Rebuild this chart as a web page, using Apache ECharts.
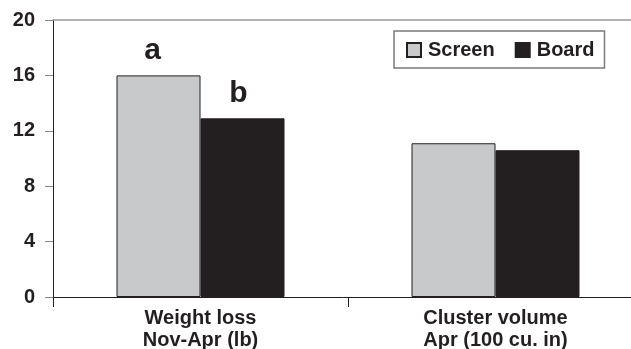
<!DOCTYPE html>
<html>
<head>
<meta charset="utf-8">
<script src="https://cdn.jsdelivr.net/npm/echarts@6/dist/echarts.min.js"></script>
<style>html,body{margin:0;padding:0;background:#fff}#c{width:631px;height:349px}</style>
</head>
<body>
<div id="c"></div>
<script>
var categories = ['Weight loss\nNov-Apr (lb)', 'Cluster volume\nApr (100 cu. in)'];
var screenValues = [16, 11.1];
var boardValues = [12.9, 10.6];
var screenLetters = ['a', ''];
var boardLetters = ['b', ''];
var yTicks = [0, 4, 8, 12, 16, 20];

var FONT = '"Liberation Sans", Arial, sans-serif';
var INK = '#231f20';

function withLetters(values, letters, offset) {
  return values.map(function (v, i) {
    var item = { value: v };
    if (letters[i]) {
      item.label = {
        show: true, position: 'top', distance: 10, offset: offset,
        formatter: letters[i], fontFamily: FONT, fontWeight: 'bold',
        fontSize: 30, color: INK
      };
    }
    return item;
  });
}

var chart = echarts.init(document.getElementById('c'), null, { renderer: 'canvas' });
chart.setOption({
  animation: false,
  backgroundColor: '#fff',
  grid: { left: 53, top: 20, width: 590, height: 277, containLabel: false, outerBoundsMode: 'none' },
  legend: {
    left: 394, top: 31,
    padding: [9, 10, 8, 12],
    borderColor: '#7a7a7a', borderWidth: 1.5,
    itemWidth: 14, itemHeight: 14, itemGap: 20,
    icon: 'rect',
    textStyle: { fontFamily: FONT, fontWeight: 'bold', fontSize: 20, color: INK, padding: [0, 0, 0, 2] },
    data: ['Screen', 'Board']
  },
  xAxis: [{
    type: 'category',
    data: categories,
    axisLine: { lineStyle: { color: INK, width: 1 } },
    axisTick: { show: true, length: 10, lineStyle: { color: INK } },
    axisLabel: {
      margin: 10, fontFamily: FONT, fontWeight: 'bold', fontSize: 20,
      lineHeight: 22, color: INK, interval: 0
    },
    splitLine: { show: false }
  }, {
    type: 'category',
    data: categories,
    position: 'top',
    axisLine: { show: true, lineStyle: { color: '#9a9a9a', width: 1.5 } },
    axisTick: { show: false },
    axisLabel: { show: false }
  }],
  yAxis: {
    type: 'value',
    min: yTicks[0], max: yTicks[yTicks.length - 1], interval: 4,
    axisLine: { show: true, lineStyle: { color: INK } },
    axisTick: { show: true, length: 8, lineStyle: { color: '#888' } },
    axisLabel: { margin: 18, fontFamily: FONT, fontWeight: 'bold', fontSize: 20, color: INK },
    splitLine: { show: false }
  },
  series: [{
    name: 'Screen', type: 'bar', barWidth: 84, barGap: '0%',
    itemStyle: { color: '#c8c9cb', borderColor: INK, borderWidth: 1 },
    data: withLetters(screenValues, screenLetters, [-6, 0])
  }, {
    name: 'Board', type: 'bar', barWidth: 84,
    itemStyle: { color: INK, borderColor: INK, borderWidth: 1 },
    data: withLetters(boardValues, boardLetters, [-4, 0])
  }]
});
</script>
</body>
</html>
